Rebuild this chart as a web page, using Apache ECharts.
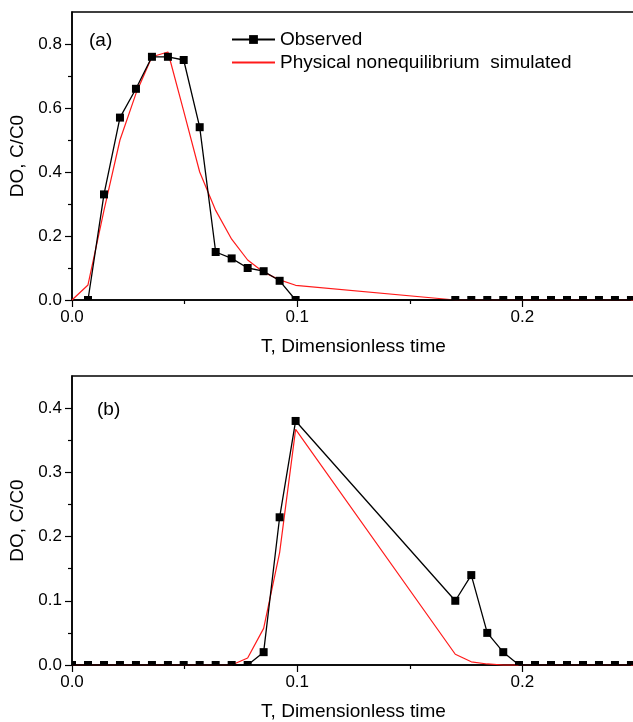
<!DOCTYPE html>
<html>
<head>
<meta charset="utf-8">
<script src="https://cdn.jsdelivr.net/npm/echarts@6/dist/echarts.min.js"></script>
<style>
  html, body { margin: 0; background: #fff; }
  #chart { width: 633px; height: 722px; }
</style>
</head>
<body>
<div id="chart"></div>
<script>
// panel (a)
var timeObsA = [0.0071, 0.0142, 0.0213, 0.0284, 0.0355, 0.0426, 0.0496, 0.0567, 0.0638, 0.0709, 0.0780, 0.0851, 0.0922, 0.0993,
  0.1702, 0.1773, 0.1844, 0.1915, 0.1985, 0.2056, 0.2127, 0.2198, 0.2269, 0.2340, 0.2411, 0.2482];
var obsA = [0, 0.33, 0.57, 0.66, 0.76, 0.76, 0.75, 0.54, 0.15, 0.13, 0.10, 0.09, 0.06, 0,
  0, 0, 0, 0, 0, 0, 0, 0, 0, 0, 0, 0];
var timeSimA = [0, 0.0071, 0.0142, 0.0213, 0.0284, 0.0355, 0.0426, 0.0496, 0.0567, 0.0638, 0.0709, 0.0780, 0.0851, 0.0922, 0.0993, 0.1702, 0.25];
var simA = [0, 0.047, 0.28, 0.50, 0.645, 0.76, 0.775, 0.59, 0.40, 0.28, 0.19, 0.125, 0.087, 0.063, 0.046, 0, 0];

// panel (b)
var timeObsB = [0, 0.0071, 0.0142, 0.0213, 0.0284, 0.0355, 0.0426, 0.0496, 0.0567, 0.0638, 0.0709, 0.0780, 0.0851, 0.0922, 0.0993,
  0.1702, 0.1773, 0.1844, 0.1915, 0.1985, 0.2056, 0.2127, 0.2198, 0.2269, 0.2340, 0.2411, 0.2482];
var obsB = [0, 0, 0, 0, 0, 0, 0, 0, 0, 0, 0, 0, 0.02, 0.23, 0.38,
  0.10, 0.14, 0.05, 0.02, 0, 0, 0, 0, 0, 0, 0, 0];
var timeSimB = [0, 0.0709, 0.0780, 0.0851, 0.0922, 0.0993, 0.1702, 0.1773, 0.1844, 0.1915, 0.25];
var simB = [0, 0, 0.011, 0.057, 0.175, 0.367, 0.0167, 0.005, 0.0016, 0, 0];

// tick values
var xTicks = [0, 0.1, 0.2];
var yTicksA = [0, 0.2, 0.4, 0.6, 0.8];
var yTicksB = [0, 0.1, 0.2, 0.3, 0.4];

var names = ['Observed', 'Physical nonequilibrium  simulated'];
var F = 'Liberation Sans, Arial, sans-serif';

// markers sitting on the axes are cut like in the original
function pts(ts, vs, cutAtAxis) {
  return ts.map(function (t, i) {
    var item = {value: [t, vs[i]]};
    if (cutAtAxis && vs[i] === 0) {
      var w = t === 0 ? 4 : 8;
      item.symbolSize = [w, 4];
      item.symbolOffset = [t === 0 ? 2 : 0, -2];
    }
    return item;
  });
}

function fmt(v) { return v.toFixed(1); }

function xAx(idx) {
  return {
    gridIndex: idx, type: 'value', min: 0, max: 0.25, interval: 0.1,
    name: 'T, Dimensionless time', nameLocation: 'middle', nameGap: 37,
    nameTextStyle: {fontSize: 19, color: '#000', fontFamily: F},
    axisLine: {show: true, onZero: false, lineStyle: {color: '#000', width: 1.5}},
    axisTick: {show: true, length: 7, customValues: xTicks, lineStyle: {color: '#000', width: 1.2}},
    minorTick: {show: true, splitNumber: 2, length: 4, lineStyle: {color: '#000', width: 1.2}},
    axisLabel: {fontSize: 17, color: '#000', fontFamily: F, margin: 9, customValues: xTicks, formatter: fmt},
    splitLine: {show: false}
  };
}

function yAx(idx, max, step, ticks) {
  return {
    gridIndex: idx, type: 'value', min: 0, max: max, interval: step,
    name: 'DO, C/C0', nameLocation: 'middle', nameGap: 40,
    nameTextStyle: {fontSize: 19, color: '#000', fontFamily: F},
    axisLine: {show: true, onZero: false, lineStyle: {color: '#000', width: 1.5}},
    axisTick: {show: true, length: 7, customValues: ticks, lineStyle: {color: '#000', width: 1.2}},
    minorTick: {show: true, splitNumber: 2, length: 4, lineStyle: {color: '#000', width: 1.2}},
    axisLabel: {fontSize: 17, color: '#000', fontFamily: F, margin: 10, customValues: ticks, formatter: fmt},
    splitLine: {show: false}
  };
}

function obsSeries(idx, data) {
  return {
    name: names[0], type: 'line', xAxisIndex: idx, yAxisIndex: idx,
    data: data, symbol: 'rect', symbolSize: 8, clip: false, z: 4,
    lineStyle: {color: '#000', width: 1.3}, itemStyle: {color: '#000'}
  };
}

function simSeries(idx, data) {
  return {
    name: names[1], type: 'line', xAxisIndex: idx, yAxisIndex: idx,
    data: data, symbol: 'none', clip: false, z: 3,
    lineStyle: {color: '#ff1a1a', width: 1.2}, itemStyle: {color: '#ff1a1a'}
  };
}

var chart = echarts.init(document.getElementById('chart'));
chart.setOption({
  backgroundColor: '#fff',
  animation: false,
  title: [
    {text: '(a)', left: 89, top: 31, padding: 0, textStyle: {fontSize: 19, fontWeight: 'normal', color: '#000', fontFamily: F}},
    {text: '(b)', left: 97, top: 400, padding: 0, textStyle: {fontSize: 19, fontWeight: 'normal', color: '#000', fontFamily: F}}
  ],
  legend: {
    data: [names[0], {name: names[1], itemStyle: {opacity: 0}}],
    orient: 'vertical', left: 231, top: 30, padding: 0,
    itemWidth: 43, itemHeight: 11, itemGap: 4,
    textStyle: {fontSize: 19, color: '#000', fontFamily: F}
  },
  grid: [
    {left: 72, top: 12, right: -2, height: 288, show: true, borderColor: '#000', borderWidth: 1.5, outerBoundsMode: 'none'},
    {left: 72, top: 376, right: -2, height: 289, show: true, borderColor: '#000', borderWidth: 1.5, outerBoundsMode: 'none'}
  ],
  xAxis: [xAx(0), xAx(1)],
  yAxis: [yAx(0, 0.9, 0.2, yTicksA), yAx(1, 0.45, 0.1, yTicksB)],
  series: [
    simSeries(0, pts(timeSimA, simA, false)),
    obsSeries(0, pts(timeObsA, obsA, true)),
    simSeries(1, pts(timeSimB, simB, false)),
    obsSeries(1, pts(timeObsB, obsB, true))
  ]
});
</script>
</body>
</html>
